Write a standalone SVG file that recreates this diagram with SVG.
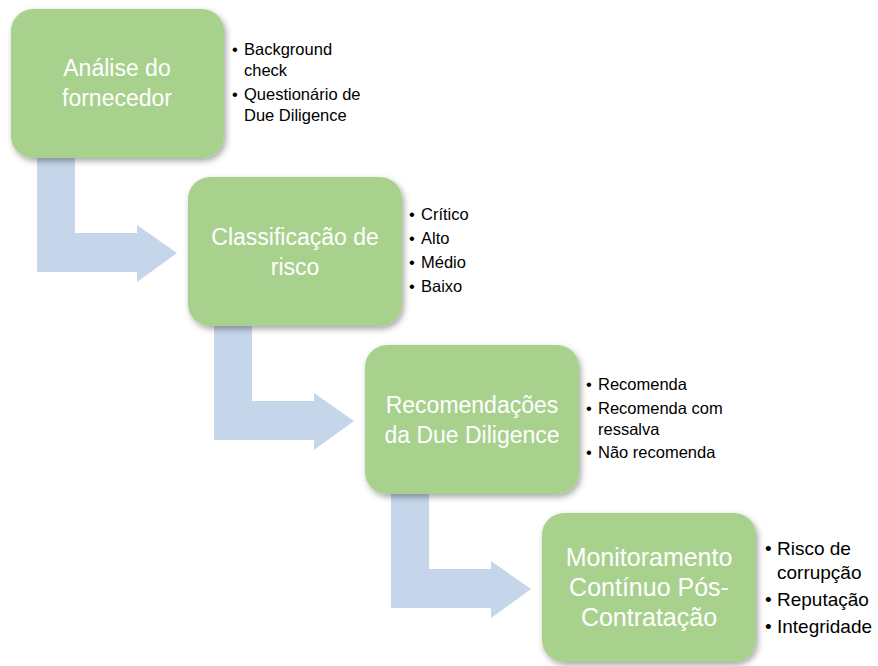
<svg xmlns="http://www.w3.org/2000/svg" width="878" height="666" viewBox="0 0 878 666">
<style>
.box{fill:#a9d18e;filter:url(#sh)}
.bt{font-family:"Liberation Sans",Arial,sans-serif;font-size:23px;fill:#ffffff;text-anchor:middle}
.bt4{font-size:25px}
.li{font-family:"Liberation Sans",Arial,sans-serif;font-size:16.5px;fill:#000000}
.li4{font-family:"Liberation Sans",Arial,sans-serif;font-size:19px;fill:#000000}
.arr{fill:#c5d5ea}
</style>
<defs>
<filter id="sh" x="-10%" y="-10%" width="125%" height="130%">
<feDropShadow dx="2" dy="3" stdDeviation="3" flood-color="#000" flood-opacity="0.35"/>
</filter>
</defs>
<rect width="878" height="666" fill="#ffffff"/>
<g id="connectors">
<path class="arr" d="M37,150 H75 V233 H137 V225 L177,253 L137,282 V272 H37 Z"/>
<path class="arr" d="M214,318 H252 V401 H314 V393 L354,421 L314,450 V440 H214 Z"/>
<path class="arr" d="M391,486 H429 V569 H491 V561 L531,589 L491,618 V608 H391 Z"/>
</g>
<g id="node1">
<rect class="box" x="11" y="9" width="213" height="149" rx="22"/>
<text class="bt" x="117" y="76">Análise do</text>
<text class="bt" x="117" y="106">fornecedor</text>
<text class="li" x="232" y="55">•</text><text class="li" x="244" y="55">Background</text>
<text class="li" x="244" y="76">check</text>
<text class="li" x="232" y="100">•</text><text class="li" x="244" y="100">Questionário de</text>
<text class="li" x="244" y="121">Due Diligence</text>
</g>
<g id="node2">
<rect class="box" x="188" y="177" width="214" height="149" rx="22"/>
<text class="bt" x="295" y="245">Classificação de</text>
<text class="bt" x="295" y="275">risco</text>
<text class="li" x="409" y="220">•</text><text class="li" x="421" y="220">Crítico</text>
<text class="li" x="409" y="244">•</text><text class="li" x="421" y="244">Alto</text>
<text class="li" x="409" y="268">•</text><text class="li" x="421" y="268">Médio</text>
<text class="li" x="409" y="292">•</text><text class="li" x="421" y="292">Baixo</text>
</g>
<g id="node3">
<rect class="box" x="365" y="345" width="214" height="149" rx="22"/>
<text class="bt" x="472" y="413">Recomendações</text>
<text class="bt" x="472" y="443">da Due Diligence</text>
<text class="li" x="586" y="390">•</text><text class="li" x="598" y="390">Recomenda</text>
<text class="li" x="586" y="414">•</text><text class="li" x="598" y="414">Recomenda com</text>
<text class="li" x="598" y="435">ressalva</text>
<text class="li" x="586" y="458">•</text><text class="li" x="598" y="458">Não recomenda</text>
</g>
<g id="node4">
<rect class="box" x="542" y="513" width="214" height="149" rx="22"/>
<text class="bt bt4" x="649" y="566">Monitoramento</text>
<text class="bt bt4" x="649" y="596">Contínuo Pós-</text>
<text class="bt bt4" x="649" y="626">Contratação</text>
<text class="li4" x="765" y="555">•</text><text class="li4" x="777" y="555">Risco de</text>
<text class="li4" x="777" y="579">corrupção</text>
<text class="li4" x="765" y="606">•</text><text class="li4" x="777" y="606">Reputação</text>
<text class="li4" x="765" y="633">•</text><text class="li4" x="777" y="633">Integridade</text>
</g>
</svg>
